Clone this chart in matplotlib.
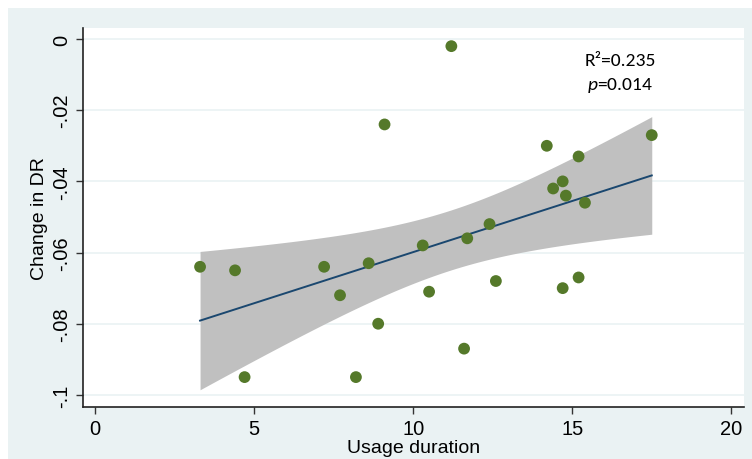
import numpy as np
import matplotlib.pyplot as plt
from matplotlib.patches import Rectangle

# usage duration vs change in DR
usage = [3.3, 4.4, 4.7, 7.2, 7.7, 8.6, 8.9, 8.2, 9.1, 10.3, 10.5, 11.2, 11.7,
         11.6, 12.4, 12.6, 14.2, 14.4, 14.7, 14.8, 14.7, 15.2, 15.2, 15.4, 17.5]
change_dr = [-0.064, -0.065, -0.095, -0.064, -0.072, -0.063, -0.080, -0.095,
             -0.024, -0.058, -0.071, -0.002, -0.056, -0.087, -0.052, -0.068,
             -0.030, -0.042, -0.040, -0.044, -0.070, -0.033, -0.067, -0.046,
             -0.027]
xticks = [0, 5, 10, 15, 20]
yticks = [0, -0.02, -0.04, -0.06, -0.08, -0.1]
yticklabels = ['0', '-.02', '-.04', '-.06', '-.08', '-.1']

plt.rcParams['font.family'] = ['Liberation Sans', 'DejaVu Sans']
plt.rcParams['mathtext.fontset'] = 'custom'
plt.rcParams['mathtext.it'] = 'Carlito:italic'
plt.rcParams['mathtext.rm'] = 'Carlito'

bg = '#eaf2f3'
fig = plt.figure(figsize=(7.52, 4.6), dpi=100)
fig.patches.append(Rectangle((8 / 752, 0), 1, 1 - 9 / 460, transform=fig.transFigure,
                             facecolor=bg, edgecolor='none', zorder=-10))
ax = fig.add_axes([83 / 752, 1 - 408 / 460, (744 - 83) / 752, (408 - 29) / 460])

# linear fit with 95% CI (Stata lfitci style)
x = np.array(usage)
y = np.array(change_dr)
n = len(x)
b, a = np.polyfit(x, y, 1)
resid = y - (a + b * x)
s = np.sqrt(np.sum(resid ** 2) / (n - 2))
xs = np.linspace(x.min(), x.max(), 100)
se = s * np.sqrt(1 / n + (xs - x.mean()) ** 2 / np.sum((x - x.mean()) ** 2))
t = 2.069
fit = a + b * xs
ax.fill_between(xs, fit - t * se, fit + t * se, color='#c0c0c0', lw=0, zorder=2)
ax.plot(xs, fit, color='#1a476f', lw=1.4, zorder=3)
ax.scatter(x, y, s=72, color='#55792a', edgecolor='none', zorder=4)

ax.set_xlim(-0.38, 20.4)
ax.set_ylim(-0.1034, 0.0031)
ax.set_xticks(xticks)
ax.set_yticks(yticks)
ax.set_yticklabels(yticklabels, rotation=90, va='center')
ax.tick_params(labelsize=14.5, length=5, width=1, color='#333333')
ax.grid(axis='y', color=bg, lw=1.2, zorder=1)
ax.set_axisbelow(True)
for side in ['top', 'right']:
    ax.spines[side].set_visible(False)
for side in ['left', 'bottom']:
    ax.spines[side].set_color('#222222')
    ax.spines[side].set_linewidth(1.2)
ax.set_xlabel('Usage duration', fontsize=14, labelpad=1)
ax.set_ylabel('Change in DR', fontsize=14, labelpad=3)

ax.text(16.5, -0.0058, 'R²=0.235', fontsize=14, ha='center', va='center',
        family=['Carlito', 'Liberation Sans', 'DejaVu Sans'])
ax.text(16.5, -0.0128, r'$p$=0.014', fontsize=14, ha='center', va='center',
        family=['Carlito', 'Liberation Sans', 'DejaVu Sans'])

fig.savefig('out.png', dpi=100)
